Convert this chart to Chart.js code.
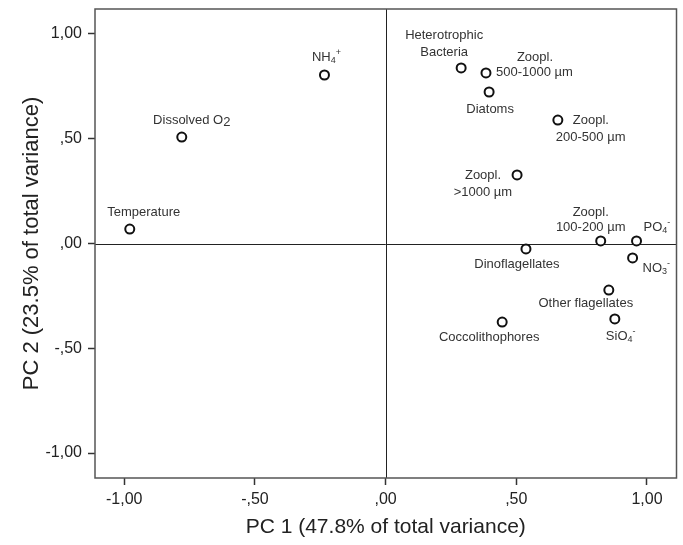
<!DOCTYPE html>
<html>
<head>
<meta charset="utf-8">
<script src="https://cdn.jsdelivr.net/npm/chart.js@4/dist/chart.umd.min.js"></script>
<style>
    body { margin: 0; background: #fff; }
    canvas { display: block; }
</style>
</head>
<body>
<canvas id="pcaChart" width="683" height="545"></canvas>
<script>
// Variable names (markup: _x = subscript, ^x = superscript, ~x = lowered)
const variables = [
    ["Temperature"],
    ["Dissolved O~2"],
    ["NH_4^+"],
    ["Heterotrophic", "Bacteria"],
    ["Zoopl.", "500-1000 µm"],
    ["Diatoms"],
    ["Zoopl.", "200-500 µm"],
    ["Zoopl.", ">1000 µm"],
    ["Zoopl.", "100-200 µm"],
    ["PO_4^-"],
    ["NO_3^-"],
    ["Dinoflagellates"],
    ["Other flagellates"],
    ["SiO_4^-"],
    ["Coccolithophores"]
];

// Loadings on the first two components
const pc1 = [-0.979, -0.780, -0.234, 0.289, 0.384, 0.396, 0.659, 0.503, 0.823, 0.960, 0.945, 0.537, 0.854, 0.877, 0.446];
const pc2 = [0.069, 0.508, 0.804, 0.838, 0.814, 0.723, 0.589, 0.327, 0.012, 0.012, -0.069, -0.026, -0.222, -0.360, -0.375];

const xTicks = [-1, -0.5, 0, 0.5, 1];
const yTicks = [-1, -0.5, 0, 0.5, 1];

const xTitle = "PC 1 (47.8% of total variance)";
const yTitle = "PC 2 (23.5% of total variance)";

/* --------------------------------------------------
   LABEL PLACEMENT (pixel offsets from each marker)
-------------------------------------------------- */
const placement = [
    [{dx: 14, dy: -17, align: "center"}],
    [{dx: 10, dy: -17, align: "center"}],
    [{dx: 2, dy: -18, align: "center"}],
    [{dx: -17, dy: -32, align: "center"}, {dx: -17, dy: -15, align: "center"}],
    [{dx: 49, dy: -15, align: "center"}, {dx: 10, dy: 0, align: "left"}],
    [{dx: 1, dy: 17, align: "center"}],
    [{dx: 15, dy: 0, align: "left"}, {dx: -2, dy: 17, align: "left"}],
    [{dx: -16, dy: 0, align: "right"}, {dx: -5, dy: 17, align: "right"}],
    [{dx: -10, dy: -29, align: "center"}, {dx: -10, dy: -14, align: "center"}],
    [{dx: 7, dy: -14, align: "left"}],
    [{dx: 10, dy: 10, align: "left"}],
    [{dx: -9, dy: 15, align: "center"}],
    [{dx: -23, dy: 13, align: "center"}],
    [{dx: -9, dy: 17, align: "left"}],
    [{dx: -13, dy: 15, align: "center"}]
];

const FONT = "Arial, 'Liberation Sans', sans-serif";
const LABEL_SIZE = 13;

// SPSS style: 1,00  ,50  ,00  -,50
function fmtTick(v) {
    let s = Math.abs(v).toFixed(2).replace(".", ",");
    if (s.startsWith("0")) s = s.slice(1);
    return (v < 0 ? "-" : "") + s;
}

function parseLabel(str) {
    const segs = [];
    let buf = "";
    for (let i = 0; i < str.length; i++) {
        const c = str[i];
        if ((c === "_" || c === "^" || c === "~") && i + 1 < str.length) {
            if (buf) { segs.push({t: buf, k: "n"}); buf = ""; }
            segs.push({t: str[i + 1], k: c});
            i++;
        } else {
            buf += c;
        }
    }
    if (buf) segs.push({t: buf, k: "n"});
    return segs;
}

function segFont(k) {
    const size = (k === "_" || k === "^") ? Math.round(LABEL_SIZE * 0.7) : LABEL_SIZE;
    return size + "px " + FONT;
}

function segShift(k) {
    if (k === "_") return 4;
    if (k === "^") return -4;
    if (k === "~") return 2;
    return 0;
}

/* --------------------------------------------------
   PLUGINS: frame + zero lines, point labels
-------------------------------------------------- */
const framePlugin = {
    id: "frame",
    beforeDatasetsDraw(chart) {
        const {ctx, chartArea: a, scales: {x, y}} = chart;
        ctx.save();
        ctx.strokeStyle = "#222";
        ctx.lineWidth = 1;
        const x0 = Math.round(x.getPixelForValue(0)) + 0.5;
        const y0 = Math.round(y.getPixelForValue(0)) + 0.5;
        ctx.beginPath();
        ctx.moveTo(x0, a.top);
        ctx.lineTo(x0, a.bottom);
        ctx.moveTo(a.left, y0);
        ctx.lineTo(a.right, y0);
        ctx.stroke();

        ctx.strokeStyle = "#555";
        ctx.lineWidth = 1.5;
        ctx.strokeRect(a.left, a.top, a.right - a.left, a.bottom - a.top);
        ctx.restore();
    }
};

const labelPlugin = {
    id: "pointLabels",
    afterDatasetsDraw(chart) {
        const {ctx, scales: {x, y}} = chart;
        ctx.save();
        ctx.fillStyle = "#333";
        ctx.textBaseline = "middle";
        ctx.textAlign = "left";

        variables.forEach((lines, i) => {
            const px = x.getPixelForValue(pc1[i]);
            const py = y.getPixelForValue(pc2[i]);
            lines.forEach((line, j) => {
                const p = placement[i][j];
                const segs = parseLabel(line);
                let width = 0;
                segs.forEach(s => {
                    ctx.font = segFont(s.k);
                    s.w = ctx.measureText(s.t).width;
                    width += s.w;
                });
                let tx = px + p.dx;
                if (p.align === "center") tx -= width / 2;
                if (p.align === "right") tx -= width;
                const ty = py + p.dy;
                segs.forEach(s => {
                    ctx.font = segFont(s.k);
                    ctx.fillText(s.t, tx, ty + segShift(s.k));
                    tx += s.w;
                });
            });
        });
        ctx.restore();
    }
};

/* --------------------------------------------------
   CHART
-------------------------------------------------- */
const points = pc1.map((v, i) => ({x: v, y: pc2[i]}));

new Chart(document.getElementById("pcaChart"), {
    type: "scatter",
    data: {
        datasets: [{
            data: points,
            pointRadius: 4.5,
            pointBorderWidth: 2,
            pointBorderColor: "#111",
            pointBackgroundColor: "#fff"
        }]
    },
    options: {
        responsive: false,
        animation: false,
        layout: { padding: { top: 9, right: 5, left: 0, bottom: 0 } },
        plugins: {
            legend: { display: false },
            tooltip: { enabled: false }
        },
        scales: {
            x: {
                type: "linear",
                min: -1.112,
                max: 1.113,
                afterBuildTicks: s => { s.ticks = xTicks.map(v => ({value: v})); },
                afterFit: s => { s.height = 67; s.paddingLeft = 0; s.paddingRight = 0; },
                grid: { drawOnChartArea: false, tickLength: 7, color: "#333", tickWidth: 1.5 },
                border: { display: false },
                ticks: {
                    callback: fmtTick,
                    color: "#222",
                    padding: 5,
                    maxRotation: 0,
                    font: { family: FONT, size: 16 }
                },
                title: {
                    display: true,
                    text: xTitle,
                    color: "#222",
                    padding: { top: 0, bottom: 5 },
                    font: { family: FONT, size: 21 }
                }
            },
            y: {
                type: "linear",
                min: -1.119,
                max: 1.119,
                afterBuildTicks: s => { s.ticks = yTicks.map(v => ({value: v})); },
                afterFit: s => { s.width = 95; s.paddingTop = 0; s.paddingBottom = 0; },
                grid: { drawOnChartArea: false, tickLength: 7, color: "#333", tickWidth: 1.5 },
                border: { display: false },
                ticks: {
                    callback: fmtTick,
                    color: "#222",
                    padding: 6,
                    font: { family: FONT, size: 16 }
                },
                title: {
                    display: true,
                    text: yTitle,
                    color: "#222",
                    padding: { top: 19, bottom: 0 },
                    font: { family: FONT, size: 22 }
                }
            }
        }
    },
    plugins: [framePlugin, labelPlugin]
});
</script>
</body>
</html>
